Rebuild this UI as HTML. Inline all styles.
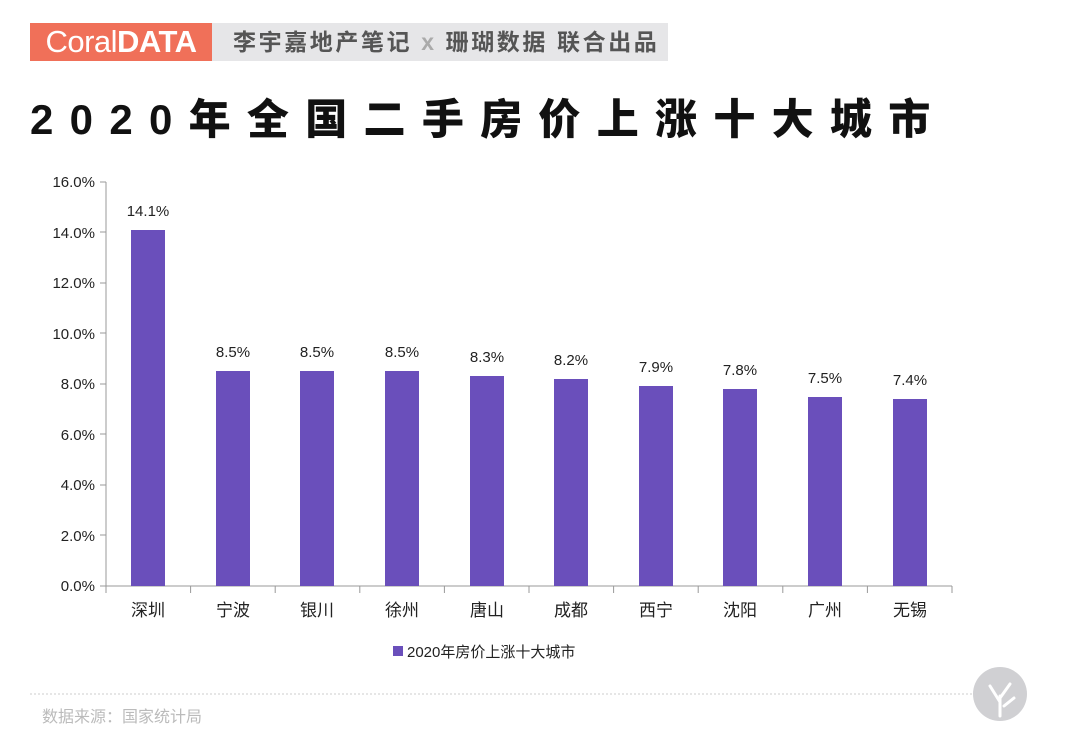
<!DOCTYPE html>
<html><head><meta charset="utf-8"><style>
body{margin:0;width:1080px;height:754px;background:#fff;overflow:hidden;font-family:"Liberation Sans","Noto Sans CJK SC",sans-serif;position:relative}
.or{position:absolute;left:30px;top:23px;width:182px;height:38px;background:#f07059;color:#fff;font-size:31px;line-height:38px;text-align:center;letter-spacing:-0.5px}
.gr{position:absolute;left:212px;top:23px;width:456px;height:38px;background:#e6e6e8;color:#555;font-size:23px;font-weight:bold;line-height:38px;padding-left:21px;box-sizing:border-box;letter-spacing:2.6px;white-space:nowrap}
.t{position:absolute;left:30px;top:86px;font-size:42px;font-weight:900;letter-spacing:16.3px;color:#111;white-space:nowrap;font-family:"Liberation Sans","Noto Sans CJK SC",sans-serif}
</style></head><body>
<div class="or"><span style="font-weight:300">Coral</span><b>DATA</b></div>
<div class="gr">李宇嘉地产笔记 <span style="color:#aaa">x</span> 珊瑚数据 联合出品</div>
<div class="t">2020年全国二手房价上涨十大城市</div>
<svg width="1080" height="754" style="position:absolute;left:0;top:0" font-family="Liberation Sans,Noto Sans CJK SC,sans-serif">
<g font-size="15" fill="#222" text-anchor="end">
<text x="95" y="591">0.0%</text><text x="95" y="541">2.0%</text><text x="95" y="490">4.0%</text><text x="95" y="440">6.0%</text><text x="95" y="389">8.0%</text><text x="95" y="339">10.0%</text><text x="95" y="288">12.0%</text><text x="95" y="238">14.0%</text><text x="95" y="187">16.0%</text>
</g>
<g stroke="#999" stroke-width="1">
<line x1="106" y1="182" x2="106" y2="586"/><line x1="106" y1="586" x2="952" y2="586"/>
<line x1="100" y1="182" x2="106" y2="182"/><line x1="100" y1="232" x2="106" y2="232"/><line x1="100" y1="283" x2="106" y2="283"/><line x1="100" y1="333" x2="106" y2="333"/><line x1="100" y1="384" x2="106" y2="384"/><line x1="100" y1="434" x2="106" y2="434"/><line x1="100" y1="485" x2="106" y2="485"/><line x1="100" y1="535" x2="106" y2="535"/><line x1="100" y1="586" x2="106" y2="586"/>
<line x1="106" y1="586" x2="106" y2="593"/><line x1="190.6" y1="586" x2="190.6" y2="593"/><line x1="275.2" y1="586" x2="275.2" y2="593"/><line x1="359.8" y1="586" x2="359.8" y2="593"/><line x1="444.4" y1="586" x2="444.4" y2="593"/><line x1="529" y1="586" x2="529" y2="593"/><line x1="613.6" y1="586" x2="613.6" y2="593"/><line x1="698.2" y1="586" x2="698.2" y2="593"/><line x1="782.8" y1="586" x2="782.8" y2="593"/><line x1="867.4" y1="586" x2="867.4" y2="593"/><line x1="952" y1="586" x2="952" y2="593"/>
</g>
<g fill="#6a4fbb">
<rect x="131" y="230" width="34" height="356"/>
<rect x="216" y="371" width="34" height="215"/>
<rect x="300" y="371" width="34" height="215"/>
<rect x="385" y="371" width="34" height="215"/>
<rect x="470" y="376" width="34" height="210"/>
<rect x="554" y="379" width="34" height="207"/>
<rect x="639" y="386" width="34" height="200"/>
<rect x="723" y="389" width="34" height="197"/>
<rect x="808" y="397" width="34" height="189"/>
<rect x="893" y="399" width="34" height="187"/>
</g>
<g font-size="15" fill="#222" text-anchor="middle">
<text x="148" y="216">14.1%</text><text x="233" y="357">8.5%</text><text x="317" y="357">8.5%</text><text x="402" y="357">8.5%</text><text x="487" y="362">8.3%</text><text x="571" y="365">8.2%</text><text x="656" y="372">7.9%</text><text x="740" y="375">7.8%</text><text x="825" y="383">7.5%</text><text x="910" y="385">7.4%</text>
</g>
<g font-size="17" fill="#222" text-anchor="middle">
<text x="148" y="616">深圳</text><text x="233" y="616">宁波</text><text x="317" y="616">银川</text><text x="402" y="616">徐州</text><text x="487" y="616">唐山</text><text x="571" y="616">成都</text><text x="656" y="616">西宁</text><text x="740" y="616">沈阳</text><text x="825" y="616">广州</text><text x="910" y="616">无锡</text>
</g>
<rect x="393" y="646" width="10" height="10" fill="#6a4fbb"/>
<text x="407" y="657" font-size="15" fill="#222">2020年房价上涨十大城市</text>
<line x1="30" y1="694" x2="990" y2="694" stroke="#ccc" stroke-dasharray="2,2"/>
<text x="42" y="722" font-size="16" fill="#bbb">数据来源：国家统计局</text>
<circle cx="1000" cy="694" r="27" fill="#d0d0d3"/>
<path d="M1000 716 L1000 696 M1000 702 L990 686 M1000 698 L1010 684 M1004 706 L1014 698" stroke="#fff" stroke-width="3" fill="none" stroke-linecap="round"/>
</svg>
</body></html>
